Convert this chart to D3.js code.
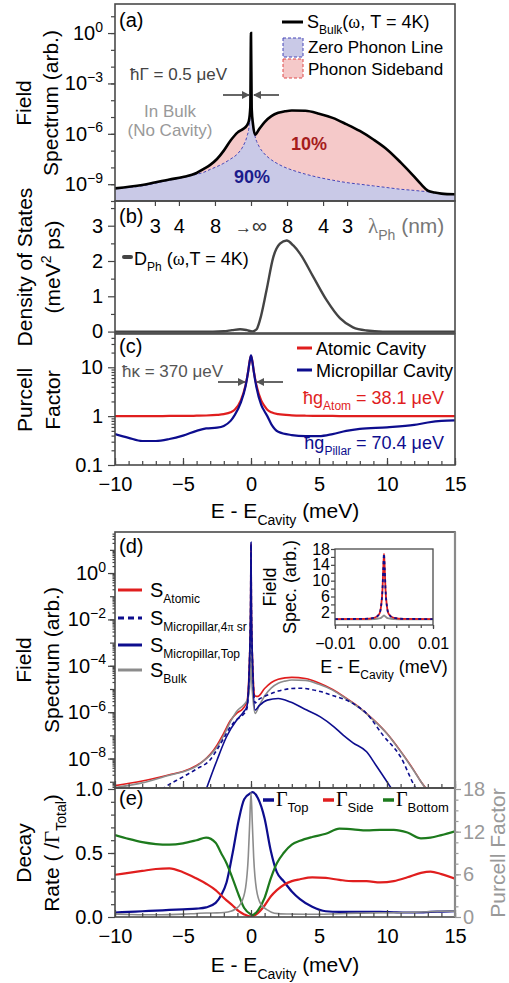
<!DOCTYPE html>
<meta charset="utf-8">
<style>
body{margin:0;background:#fff;}
svg{font-family:"Liberation Sans",Arial,sans-serif;}
.tick text{font-size:20px;fill:#000;}
.tick line{stroke:#444;stroke-width:1.2;}
.rax .tick text{fill:#999;}
.rax .tick line{stroke:#999;}
.inset .tick text{font-size:16px;}
.frame{fill:none;stroke:#4a4a4a;stroke-width:1.6;}
.gk{font-family:"Liberation Serif",serif;}
</style>
<body>
<script src="https://d3js.org/d3.v7.min.js"></script>
<script>

// ---- (a) bulk field spectrum, log10 values ----
var bulkE   = [-10,-8,-6,-5,-4,-3.5,-3,-2.5,-2,-1.5,-1,-0.6,-0.3,-0.15,-0.05,0,0.05,0.15,0.3,0.6,1,1.5,2,2.5,3,4,5,6,7,8,9,10,11,12,12.5,13,13.5,14,15];
var bulkLog = [-9.25,-9.05,-8.72,-8.57,-8.33,-8.1,-7.85,-7.5,-7.0,-6.4,-5.93,-5.72,-5.5,-5.2,-4.4,0,-4.5,-5.45,-6.05,-5.72,-5.3,-4.95,-4.75,-4.66,-4.61,-4.63,-4.8,-5.05,-5.42,-5.83,-6.34,-6.93,-7.7,-8.55,-9.0,-9.38,-9.5,-9.56,-9.6];
var zplLog  = [-9.25,-9.1,-8.76,-8.6,-8.41,-8.3,-8.12,-7.95,-7.75,-7.5,-7.2,-6.76,-6.16,-5.6,-4.6,0,-4.6,-5.6,-6.16,-6.76,-7.2,-7.55,-7.8,-8.0,-8.15,-8.4,-8.6,-8.76,-8.9,-9.0,-9.1,-9.2,-9.3,-9.37,-9.41,-9.45,-9.51,-9.57,-9.62];

// ---- (b) phonon density of states ----
var dosE = [-10,-2.8,-2,-1.4,-0.8,-0.3,0.1,0.4,0.66,1.14,1.64,2.13,2.62,3.11,3.6,4.58,5.56,6.54,7.5,8.5,9.7,15];
var dosV = [0,0,0.01,0.04,0.065,0.04,0.005,0.06,0.33,1.17,2.11,2.49,2.58,2.44,2.21,1.55,0.89,0.38,0.12,0.03,0,0];
var lamTicks = [3,4,8];     // nm, on both sides of E = 0
var lamToMeV = 21.2;        // E (meV) = lamToMeV / lambda (nm)

// ---- (c) Purcell factors ----
var purE      = [-10,-9,-8,-7,-6,-5,-4,-3.3,-2.5,-2,-1.5,-1.2,-0.75,-0.4,-0.2,-0.1,0,0.1,0.2,0.4,0.75,1,1.2,1.5,2,3,4,5,6,7,8,10,12,13,14,15];
var atomPur   = [1.0,1.0,1.0,1.0,1.01,1.01,1.02,1.03,1.06,1.1,1.2,1.35,2.1,4.3,8.5,13.3,17,13.3,8.5,4.3,2.1,1.6,1.35,1.2,1.1,1.04,1.02,1.01,1.01,1.0,1.0,1.0,1.0,1.0,1.0,1.0];
var pillarPur = [0.43,0.36,0.31,0.31,0.34,0.4,0.5,0.56,0.58,0.63,0.8,1.05,1.9,4.1,8.5,13,17.5,13,8.3,3.9,1.7,1.25,1.0,0.68,0.48,0.41,0.39,0.39,0.43,0.5,0.55,0.59,0.66,0.74,0.8,0.82];

// ---- (d) cavity spectra, [E, log10] ----
var atomSpec = [[-10,-9.17],[-8,-8.97],[-6,-8.7],[-5,-8.56],[-4,-8.3],[-3.5,-8.1],[-3,-7.82],[-2.5,-7.42],[-2,-6.9],[-1.5,-6.35],[-1,-6.02],[-0.6,-5.85],[-0.3,-5.55],[-0.1,-3.5],[-0.03,-1.5],[0,1.23],[0.03,-1.5],[0.1,-3.5],[0.3,-5.3],[0.5,-5.32],[1,-4.98],[1.5,-4.72],[2,-4.58],[2.5,-4.52],[3,-4.5],[4,-4.55],[5,-4.74],[6,-5.02],[7,-5.4],[8,-5.81],[9,-6.32],[10,-6.92],[11,-7.68],[12,-8.53],[12.5,-9.0],[13,-9.38]];
var pillar4pi = [[-8,-10.2],[-6.4,-9.27],[-5,-8.79],[-4,-8.45],[-3,-8.05],[-2.5,-7.62],[-2,-7.12],[-1.5,-6.62],[-1,-6.3],[-0.6,-6.12],[-0.3,-5.85],[-0.1,-3.6],[-0.03,-1.5],[0,1.23],[0.03,-1.5],[0.1,-3.6],[0.3,-5.6],[0.5,-5.48],[1,-5.32],[1.5,-5.19],[2,-5.09],[2.5,-5.02],[3,-4.98],[3.7,-4.97],[4.5,-5.03],[5.1,-5.11],[6,-5.28],[7.3,-5.56],[8.5,-6.06],[9.7,-6.99],[11,-7.93],[12.1,-9.27],[13,-10]];
var pillarTop = [[-4,-10.5],[-3.26,-9.27],[-2.5,-8.07],[-1.8,-7.06],[-1.05,-6.34],[-0.56,-6.0],[-0.3,-5.75],[-0.1,-3.6],[-0.03,-1.5],[0,1.33],[0.03,-1.5],[0.1,-3.6],[0.3,-5.91],[0.6,-5.72],[1.2,-5.48],[2,-5.41],[2.9,-5.56],[4.1,-5.91],[5.1,-6.2],[6.1,-6.63],[6.8,-7.0],[7.5,-7.32],[8.5,-7.71],[9.2,-8.3],[10.3,-9.27],[11,-9.9]];

// inset, linear
var insetE      = [-0.01,-0.004,-0.002,-0.001,-0.0006,-0.0003,-0.00015,0,0.00015,0.0003,0.0006,0.001,0.002,0.004,0.01];
var insetAtom   = [0.3,0.35,0.6,1.5,3.5,8,13,16.8,13,8,3.5,1.5,0.6,0.35,0.3];
var insetPillar = [0.3,0.35,0.6,1.5,3.5,8,13,16.8,13,8,3.5,1.5,0.6,0.35,0.3];
var insetBulk   = [0.25,0.25,0.3,0.45,0.6,0.9,1.1,1.2,1.1,0.9,0.6,0.45,0.3,0.25,0.25];

// ---- (e) decay rates ----
var decE    = [-10,-9,-8,-7,-6,-5,-4,-3.3,-2.6,-2.2,-1.8,-1.35,-0.9,-0.5,0,0.1,0.5,1,1.45,1.9,2.4,3,3.6,4.5,5.5,6.5,7.5,8.5,9.5,10.5,11.5,12.5,13.2,14,15];
var gTop    = [0.035,0.04,0.045,0.05,0.055,0.06,0.065,0.075,0.11,0.17,0.27,0.5,0.76,0.92,0.97,0.975,0.93,0.77,0.52,0.35,0.28,0.2,0.14,0.08,0.045,0.04,0.04,0.04,0.04,0.037,0.035,0.035,0.04,0.042,0.045];
var gSide   = [0.33,0.345,0.36,0.375,0.38,0.35,0.3,0.26,0.21,0.17,0.13,0.09,0.045,0.02,0.003,0.005,0.03,0.09,0.16,0.21,0.25,0.28,0.295,0.31,0.305,0.29,0.28,0.28,0.27,0.28,0.31,0.345,0.355,0.335,0.3];
var gBottom = [0.64,0.61,0.585,0.57,0.565,0.575,0.6,0.62,0.58,0.5,0.42,0.3,0.17,0.07,0.02,0.015,0.05,0.15,0.3,0.42,0.5,0.565,0.595,0.625,0.65,0.69,0.685,0.677,0.68,0.68,0.66,0.615,0.62,0.64,0.67];

var RED = "#e01e1e", NAVY = "#0d0d8e", GREEN = "#1d7a1d", GREY = "#8c8c8c";

var svg = d3.select("body").append("svg").attr("width",509).attr("height",983);
var defs = svg.append("defs");
defs.append("marker").attr("id","arr").attr("viewBox","0 0 10 10").attr("refX",9).attr("refY",5)
	.attr("markerWidth",4.5).attr("markerHeight",4.5).attr("orient","auto")
	.append("path").attr("d","M0,0L10,5L0,10z").attr("fill","#555");

var x  = d3.scaleLinear().domain([-10,15]).range([115,455]);
var ya = d3.scaleLog().domain([1e-10, Math.pow(10,1.73)]).range([201,4]);
var yb = d3.scaleLinear().domain([-0.04,3.7]).range([333,201]);
var yc = d3.scaleLog().domain([0.1,48]).range([465,334]);
var yd = d3.scaleLog().domain([Math.pow(10,-9.27), Math.pow(10,1.77)]).range([788,532]);
var ye = d3.scaleLinear().domain([0,1]).range([917,789]);
var yeR = d3.scaleLinear().domain([0,18]).range([917,789]);
var xi = d3.scaleLinear().domain([-0.01,0.01]).range([335,433]);
var yi = d3.scaleLinear().domain([-1.2,18]).range([625,549]);

var mono = d3.curveMonotoneX;
function p10(v){ return Math.pow(10,v); }
function zip(a,b){ return a.map(function(d,i){ return [d,b[i]]; }); }
function logLine(ys){ return d3.line().x(d=>x(d[0])).y(d=>ys(p10(d[1]))).curve(mono); }
function linLine(xs,ys){ return d3.line().x(d=>xs(d[0])).y(d=>ys(d[1])).curve(mono); }

function clip(id,x0,y0,x1,y1){
	defs.append("clipPath").attr("id",id).append("rect")
		.attr("x",x0).attr("y",y0).attr("width",x1-x0).attr("height",y1-y0);
	return svg.append("g").attr("clip-path","url(#"+id+")");
}

function rich(sel, px, py, parts, size, small){
	var t = sel.append("text").attr("x",px).attr("y",py).style("font-size",size+"px");
	var cur = 0;
	parts.forEach(function(p){
		if (typeof p === "string") p = {t:p};
		var off = p.sub ? size*0.32 : p.sup ? -size*0.42 : 0;
		var s = t.append("tspan").attr("dy", off-cur).text(p.t);
		if (p.sub || p.sup) s.style("font-size",(small || Math.round(size*0.62))+"px");
		if (p.gk) s.attr("class","gk");
		cur = off;
	});
	return t;
}
function vlabel(px, py, parts, size, col, small){
	return rich(svg, px, py, parts, size, small).attr("text-anchor","middle")
		.attr("fill", col || "#000").attr("transform","rotate(-90,"+px+","+py+")");
}
function arrow(x1,y1,x2,y2){
	svg.append("line").attr("x1",x1).attr("y1",y1).attr("x2",x2).attr("y2",y2)
		.attr("stroke","#555").attr("stroke-width",1.8).attr("marker-end","url(#arr)");
}
function noDomain(g){ g.select(".domain").remove(); }

function leftAxis(ys, major, fmt, minor, minorLen){
	svg.append("g").attr("transform","translate(115,0)")
		.call(d3.axisLeft(ys).tickValues(minor).tickSize(minorLen||4).tickFormat("")).call(noDomain);
	svg.append("g").attr("transform","translate(115,0)")
		.call(d3.axisLeft(ys).tickValues(major).tickSize(7).tickPadding(5).tickFormat(fmt||"")).call(noDomain);
}
function logLabels(ys, exps, xr){
	exps.forEach(function(k){
		rich(svg, xr, ys(p10(k))+7, ["10", {t: k===0 ? "0" : "\u2212"+(-k), sup:true}], 20, 14)
			.attr("text-anchor","end");
	});
}
function bottomAxis(y, labels){
	svg.append("g").attr("transform","translate(0,"+y+")")
		.call(d3.axisBottom(x).tickValues(d3.range(-10,16)).tickSize(-4).tickFormat("")).call(noDomain);
	svg.append("g").attr("transform","translate(0,"+y+")")
		.call(d3.axisBottom(x).tickValues([-10,-5,0,5,10,15]).tickSize(-7).tickPadding(12)
			.tickFormat(labels ? d3.format("d") : "")).call(noDomain);
}
function eTitle(y){
	rich(svg, 285, y, ["E - E", {t:"Cavity", sub:true}, " (meV)"], 21, 14).attr("text-anchor","middle");
}

// ================= (a) =================
var ga = clip("clipA",115,4,455,201);
var zplPts = zip(bulkE, zplLog);
ga.append("path").datum(zplPts).attr("fill","#c9c9e7")
	.attr("d", d3.area().x(d=>x(d[0])).y0(201).y1(d=>ya(p10(d[1]))).curve(mono));
ga.append("path").datum(bulkE.map((e,i)=>[e,zplLog[i],bulkLog[i]])).attr("fill","#f5c9c9")
	.attr("d", d3.area().x(d=>x(d[0])).y0(d=>ya(p10(d[1]))).y1(d=>ya(p10(d[2]))).curve(mono));
ga.append("path").attr("d", logLine(ya)(zplPts)).attr("fill","none")
	.attr("stroke","#4646b8").attr("stroke-width",1).attr("stroke-dasharray","3,2");
ga.append("path").attr("d", logLine(ya)(zip(bulkE,bulkLog))).attr("fill","none")
	.attr("stroke","#000").attr("stroke-width",2.6);

leftAxis(ya, [1,1e-3,1e-6,1e-9], "", d3.range(-10,2).map(p10), 4);
logLabels(ya, [0,-3,-6,-9], 103);
svg.append("rect").attr("class","frame").attr("x",115).attr("y",4).attr("width",340).attr("height",197);

rich(svg,119,27,["(a)"],20);
// legend
svg.append("line").attr("x1",282).attr("x2",303).attr("y1",22).attr("y2",22).attr("stroke","#000").attr("stroke-width",3);
rich(svg,307,28,["S",{t:"Bulk",sub:true},"(",{t:"\u03c9",gk:true},", T = 4K)"],18,12);
svg.append("rect").attr("x",283).attr("y",38).attr("width",20).attr("height",19)
	.attr("fill","#c9c9e7").attr("stroke","#4646b8").attr("stroke-dasharray","3,2");
rich(svg,308,53,["Zero Phonon Line"],17);
svg.append("rect").attr("x",283).attr("y",59).attr("width",20).attr("height",19)
	.attr("fill","#f5c9c9").attr("stroke","#e04848").attr("stroke-dasharray","3,2");
rich(svg,308,75,["Phonon Sideband"],17);
// annotations
rich(svg,130,80,["\u0127\u0393 = 0.5 \u03bceV"],17).attr("fill","#444");
arrow(223,95,249,95);
arrow(279,95,254,95);
rich(svg,170,117,["In Bulk"],17).attr("fill","#999").attr("text-anchor","middle");
rich(svg,170,136,["(No Cavity)"],17).attr("fill","#999").attr("text-anchor","middle");
rich(svg,309,150,["10%"],18).attr("fill","#a51c1c").attr("font-weight","bold").attr("text-anchor","middle");
rich(svg,252,183,["90%"],18).attr("fill","#1c1c8c").attr("font-weight","bold").attr("text-anchor","middle");
vlabel(31,103,["Field"],21);
vlabel(58,103,["Spectrum (arb.)"],21);

// ================= (b) =================
var gb = clip("clipB",115,201,455,333);
gb.append("path").attr("d", linLine(x,yb)(zip(dosE,dosV))).attr("fill","none")
	.attr("stroke","#444").attr("stroke-width",2.4);
leftAxis(yb, [0,1,2,3], d3.format("d"), [0.5,1.5,2.5,3.5], 4);
svg.append("rect").attr("class","frame").attr("x",115).attr("y",201).attr("width",340).attr("height",132);
var lamPos = [0].concat(lamTicks.map(l=>-lamToMeV/l), lamTicks.map(l=>lamToMeV/l));
svg.append("g").attr("transform","translate(0,201)")
	.call(d3.axisBottom(x).tickValues(lamPos).tickSize(5).tickPadding(13)
		.tickFormat(d => d===0 ? "" : Math.round(lamToMeV/Math.abs(d)))).call(noDomain);
rich(svg,x(0),233,[{t:"\u2192"},{t:"\u221e"}],21).attr("text-anchor","middle").attr("fill","#333")
	.select("tspan").style("font-size","17px");
rich(svg,368,233,[{t:"\u03bb",gk:true},{t:"Ph",sub:true}," (nm)"],21,14).attr("fill","#777");
rich(svg,119,223,["(b)"],20);
svg.append("line").attr("x1",124).attr("x2",131).attr("y1",257).attr("y2",257)
	.attr("stroke","#444").attr("stroke-width",4).attr("stroke-linecap","round");
rich(svg,134,265,["D",{t:"Ph",sub:true}," (",{t:"\u03c9",gk:true},",T = 4K)"],18,12);
vlabel(32,267,["Density of States"],21);
vlabel(60,267,["(meV",{t:"2",sup:true}," ps)"],21,"#000",14);

// ================= (c) =================
var gc = clip("clipC",115,334,455,465);
gc.append("path").attr("d", linLine(x,yc)(zip(purE,atomPur))).attr("fill","none").attr("stroke",RED).attr("stroke-width",2.2);
gc.append("path").attr("d", linLine(x,yc)(zip(purE,pillarPur))).attr("fill","none").attr("stroke",NAVY).attr("stroke-width",2.2);
var cMinor = [];
[-1,0,1].forEach(k => d3.range(2,10).forEach(m => cMinor.push(m*p10(k))));
leftAxis(yc, [0.1,1,10], d3.format("~g"), cMinor.filter(v=>v<48), 3.5);
bottomAxis(465, true);
svg.append("rect").attr("class","frame").attr("x",115).attr("y",334).attr("width",340).attr("height",131);
eTitle(518);
rich(svg,119,353,["(c)"],20);
svg.append("line").attr("x1",297).attr("x2",312).attr("y1",348).attr("y2",348).attr("stroke",RED).attr("stroke-width",3);
rich(svg,316,355,["Atomic Cavity"],18);
svg.append("line").attr("x1",297).attr("x2",312).attr("y1",370).attr("y2",370).attr("stroke",NAVY).attr("stroke-width",3);
rich(svg,316,377,["Micropillar Cavity"],18);
rich(svg,122,377,["\u0127\u03ba = 370 \u03bceV"],17).attr("fill","#555");
arrow(218,382,245,382);
arrow(283,382,257,382);
rich(svg,444,404,["\u0127g",{t:"Atom",sub:true}," = 38.1 \u03bceV"],18,12).attr("fill",RED).attr("text-anchor","end");
rich(svg,444,449,["\u0127g",{t:"Pillar",sub:true}," = 70.4 \u03bceV"],18,12).attr("fill",NAVY).attr("text-anchor","end");
vlabel(32,400,["Purcell"],21);
vlabel(60,400,["Factor"],21);

// ================= (d) =================
var gd = clip("clipD",115,532,455,788);
gd.append("path").attr("d", logLine(yd)(atomSpec)).attr("fill","none").attr("stroke",RED).attr("stroke-width",1.6);
gd.append("path").attr("d", logLine(yd)(zip(bulkE,bulkLog))).attr("fill","none").attr("stroke",GREY).attr("stroke-width",1.6);
gd.append("path").attr("d", logLine(yd)(pillar4pi)).attr("fill","none").attr("stroke",NAVY).attr("stroke-width",1.6).attr("stroke-dasharray","4,3");
gd.append("path").attr("d", logLine(yd)(pillarTop)).attr("fill","none").attr("stroke",NAVY).attr("stroke-width",1.6);
var dMinor = [];
d3.range(-10,2).forEach(k => d3.range(2,10).forEach(m => dMinor.push(m*p10(k))));
leftAxis(yd, [1,1e-2,1e-4,1e-6,1e-8], "", dMinor.filter(v=>v>p10(-9.27) && v<p10(1.77)), 2.5);
svg.append("g").attr("transform","translate(115,0)")
	.call(d3.axisLeft(yd).tickValues(d3.range(-9,2).map(p10)).tickSize(5).tickFormat("")).call(noDomain);
logLabels(yd, [0,-2,-4,-6,-8], 106);
bottomAxis(788, false);
svg.append("rect").attr("class","frame").attr("x",115).attr("y",532).attr("width",340).attr("height",256);
rich(svg,119,553,["(d)"],20);

var dLeg = [
	{y:590, c:RED, dash:null, parts:["S",{t:"Atomic",sub:true}]},
	{y:618, c:NAVY, dash:"6,4", parts:["S",{t:"Micropillar,4",sub:true},{t:"\u03c0",sub:true,gk:true},{t:" sr",sub:true}]},
	{y:645, c:NAVY, dash:null, parts:["S",{t:"Micropillar,Top",sub:true}]},
	{y:670, c:GREY, dash:null, parts:["S",{t:"Bulk",sub:true}]}
];
dLeg.forEach(function(d){
	svg.append("line").attr("x1",118).attr("x2",142).attr("y1",d.y).attr("y2",d.y)
		.attr("stroke",d.c).attr("stroke-width",3).attr("stroke-dasharray",d.dash);
	rich(svg,150,d.y+7,d.parts,20,12);
});
vlabel(31,660,["Field"],21);
vlabel(59,660,["Spectrum (arb.)"],21);

// inset
var gi = svg.append("g").attr("class","inset");
var gic = gi.append("g").attr("clip-path","url(#clipI)");
defs.append("clipPath").attr("id","clipI").append("rect").attr("x",335).attr("y",549).attr("width",98).attr("height",76);
gic.append("path").attr("d", linLine(xi,yi)(zip(insetE,insetBulk))).attr("fill","none").attr("stroke",GREY).attr("stroke-width",1.8);
gic.append("path").attr("d", linLine(xi,yi)(zip(insetE,insetAtom))).attr("fill","none").attr("stroke",RED).attr("stroke-width",1.8);
gic.append("path").attr("d", linLine(xi,yi)(zip(insetE,insetPillar))).attr("fill","none").attr("stroke",NAVY).attr("stroke-width",1.8).attr("stroke-dasharray","3,3");
gi.append("g").attr("transform","translate(335,0)")
	.call(d3.axisLeft(yi).tickValues([2,4,6,8,10,12,14,16,18]).tickSize(4).tickPadding(1)
		.tickFormat(d => (d-2)%4===0 ? d : "")).call(noDomain);
gi.append("g").attr("transform","translate(0,625)")
	.call(d3.axisBottom(xi).tickValues(d3.range(-0.01,0.0101,0.0025)).tickSize(3).tickFormat("")).call(noDomain);
gi.append("g").attr("transform","translate(0,625)")
	.call(d3.axisBottom(xi).tickValues([-0.01,0,0.01]).tickSize(4).tickPadding(9).tickFormat(d3.format(".2f"))).call(noDomain);
gi.append("rect").attr("class","frame").attr("x",335).attr("y",549).attr("width",98).attr("height",76).style("stroke-width",1.3);
vlabel(276,587,["Field"],18);
vlabel(296,587,["Spec. (arb.)"],18);
rich(svg,384,673,["E - E",{t:"Cavity",sub:true}," (meV)"],18,12).attr("text-anchor","middle");

// ================= (e) =================
var ge = clip("clipE",115,789,455,917);
ge.append("path").attr("d", linLine(x,ye)(zip(decE,gTop))).attr("fill","none").attr("stroke",NAVY).attr("stroke-width",2.2);
ge.append("path").attr("d", linLine(x,ye)(zip(decE,gSide))).attr("fill","none").attr("stroke",RED).attr("stroke-width",2.2);
ge.append("path").attr("d", linLine(x,ye)(zip(decE,gBottom))).attr("fill","none").attr("stroke",GREEN).attr("stroke-width",2.2);
ge.append("path").attr("d", linLine(x,yeR)(zip(purE,pillarPur))).attr("fill","none").attr("stroke",GREY).attr("stroke-width",1.6);
leftAxis(ye, [0,0.5,1], d3.format(".1f"), d3.range(0.1,1,0.1), 4);
bottomAxis(917, true);
svg.append("rect").attr("class","frame").attr("x",115).attr("y",788).attr("width",340).attr("height",129);
svg.append("line").attr("x1",455).attr("x2",455).attr("y1",532).attr("y2",917).attr("stroke","#8a8a8a").attr("stroke-width",2.2);
svg.append("g").attr("class","rax").attr("transform","translate(455,0)")
	.call(d3.axisRight(yeR).tickValues(d3.range(1.5,18,1.5)).tickSize(3.5).tickFormat("")).call(noDomain);
svg.append("g").attr("class","rax").attr("transform","translate(455,0)")
	.call(d3.axisRight(yeR).tickValues([0,6,12,18]).tickSize(6).tickPadding(2)).call(noDomain);
rich(svg,119,805,["(e)"],20);
[{x:263,c:NAVY,s:"Top"},{x:323,c:RED,s:"Side"},{x:383,c:GREEN,s:"Bottom"}].forEach(function(d){
	svg.append("line").attr("x1",d.x).attr("x2",d.x+11).attr("y1",800).attr("y2",800).attr("stroke",d.c).attr("stroke-width",3.5);
	rich(svg,d.x+13,806,[{t:"\u0393",gk:true},{t:d.s,sub:true}],20,13);
});
eTitle(972);
vlabel(31,853,["Decay"],21);
vlabel(59,853,["Rate ( /",{t:"\u0393",gk:true},{t:"Total",sub:true},")"],21,"#000",14);
vlabel(505,853,["Purcell Factor"],21,"#999");

</script>
</body>
